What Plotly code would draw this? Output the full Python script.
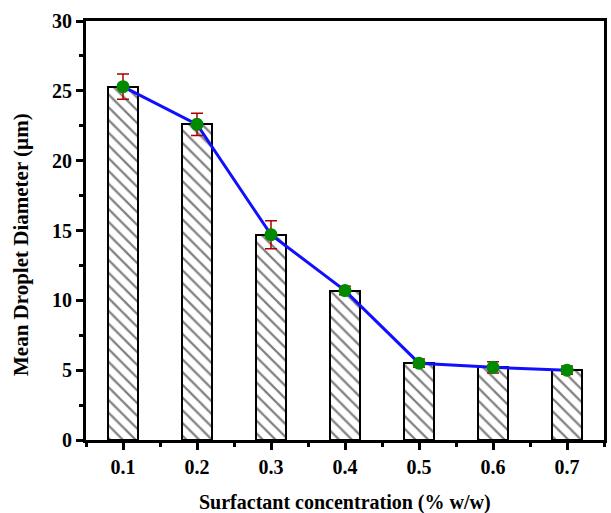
import plotly.graph_objects as go

# Surfactant concentration (% w/w) and mean droplet diameter (µm)
concentration = [0.1, 0.2, 0.3, 0.4, 0.5, 0.6, 0.7]
diameter = [25.3, 22.6, 14.7, 10.7, 5.5, 5.2, 5.0]
diameter_err = [0.9, 0.8, 1.0, 0.3, 0.3, 0.4, 0.3]

x_ticks = [0.1, 0.2, 0.3, 0.4, 0.5, 0.6, 0.7]
y_ticks = [0, 5, 10, 15, 20, 25, 30]

x_title = "Surfactant concentration (% w/w)"
y_title = "Mean Droplet Diameter (µm)"

font_family = "Liberation Serif, Times New Roman, serif"

W, H = 611, 513
M = dict(l=86, r=7, t=21, b=73)
plot_w = W - M["l"] - M["r"]
plot_h = H - M["t"] - M["b"]

fig = go.Figure()

fig.add_trace(go.Bar(
    x=concentration,
    y=diameter,
    width=0.04,
    marker=dict(
        color="white",
        line=dict(color="black", width=2),
        pattern=dict(shape="\\", fgcolor="black", bgcolor="white",
                     size=9, solidity=0.25),
    ),
    showlegend=False,
))

fig.add_trace(go.Scatter(
    x=concentration,
    y=diameter,
    mode="lines+markers",
    line=dict(color="#1010ff", width=3),
    marker=dict(color="#008a00", size=13),
    error_y=dict(type="data", array=diameter_err, color="#b00000",
                 thickness=1.5, width=6),
    showlegend=False,
))

axis_common = dict(
    showline=True, linecolor="black", linewidth=3, mirror=True,
    showgrid=False, zeroline=False, automargin=False,
    ticks="outside", tickwidth=2.5, ticklen=7, tickcolor="black",
    tickfont=dict(family=font_family, size=20, color="black", weight="bold"),
)

fig.update_xaxes(
    range=[0.05, 0.75], tickvals=x_ticks,
    ticktext=[str(v) for v in x_ticks],
    minor=dict(ticks="outside", ticklen=4, tickwidth=2.5, tickcolor="black",
               dtick=0.05, tick0=0.05),
    **axis_common,
)
fig.update_yaxes(
    range=[0, 30], tickvals=y_ticks,
    minor=dict(ticks="outside", ticklen=4, tickwidth=2.5, tickcolor="black",
               dtick=2.5, tick0=0),
    **axis_common,
)

# Axis titles placed as paper-anchored annotations
fig.add_annotation(
    text=x_title, xref="paper", yref="paper",
    x=0.5, y=-62 / plot_h, xanchor="center", yanchor="middle",
    showarrow=False,
    font=dict(family=font_family, size=20, color="black", weight="bold"),
)
fig.add_annotation(
    text=y_title, xref="paper", yref="paper",
    x=-65 / plot_w, y=(H - M["b"] - 245) / plot_h,
    xanchor="center", yanchor="middle", textangle=-90,
    showarrow=False,
    font=dict(family=font_family, size=21, color="black", weight="bold"),
)

fig.update_layout(
    width=W, height=H,
    margin=M,
    plot_bgcolor="white", paper_bgcolor="white",
    bargap=0,
)

fig.write_html("out.html")
